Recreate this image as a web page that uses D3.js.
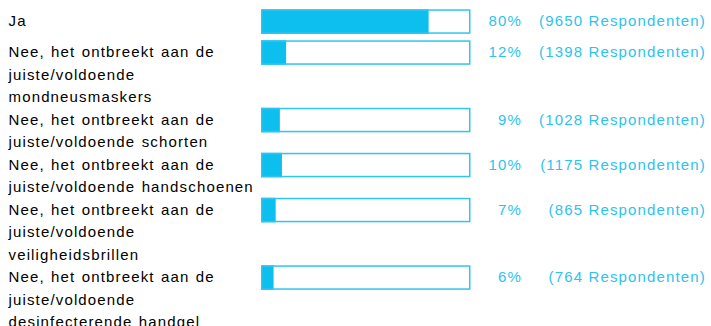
<!DOCTYPE html>
<html>
<head>
<meta charset="utf-8">
<script src="https://cdn.jsdelivr.net/npm/d3@7"></script>
<style>
  html, body { margin: 0; padding: 0; background: #ffffff; overflow: hidden; }
  svg { display: block; }
  text { font-family: "Liberation Sans", Arial, sans-serif; font-size: 15px; letter-spacing: 1.15px; }
  text.label { word-spacing: 1px; }
</style>
</head>
<body>
<svg id="chart" width="711" height="326"></svg>
<script>
// Answer options (each entry is the list of lines shown for that option)
const categories = [
  ["Ja"],
  ["Nee, het ontbreekt aan de", "juiste/voldoende", "mondneusmaskers"],
  ["Nee, het ontbreekt aan de", "juiste/voldoende schorten"],
  ["Nee, het ontbreekt aan de", "juiste/voldoende handschoenen"],
  ["Nee, het ontbreekt aan de", "juiste/voldoende", "veiligheidsbrillen"],
  ["Nee, het ontbreekt aan de", "juiste/voldoende", "desinfecterende handgel"]
];
const percentages = [80, 12, 9, 10, 7, 6];
const respondents = [9650, 1398, 1028, 1175, 865, 764];

const blue = "#0dbfef";
const textBlue = "#2cc3f0";

const svg = d3.select("#chart");

const lineHeight = 22.5;
const barHeight = 24.5;
const rowGap = 6.5;
const firstRowTop = 9.3;

// Each row is as tall as its label block or the bar plus gap, whichever is larger
const rowHeights = categories.map(lines => Math.max(lines.length * lineHeight, barHeight + rowGap));
const rowTops = rowHeights.reduce((acc, h, i) => { acc.push(i === 0 ? firstRowTop : acc[i - 1] + rowHeights[i - 1]); return acc; }, []);

const x = d3.scaleLinear().domain([0, 100]).range([261, 470.5]);

const rows = svg.selectAll("g.row")
  .data(categories.map((lines, i) => ({ lines, pct: percentages[i], n: respondents[i], y0: rowTops[i] })))
  .join("g")
  .attr("class", "row")
  .attr("transform", d => `translate(0,${d.y0})`);

// Label lines
rows.append("text")
  .attr("class", "label")
  .attr("fill", "#000000")
  .selectAll("tspan")
  .data(d => d.lines)
  .join("tspan")
  .attr("x", 8.5)
  .attr("y", (d, i) => 16.8 + i * lineHeight)
  .text(d => d);

// Bar fill
rows.append("rect")
  .attr("x", x(0))
  .attr("y", 0)
  .attr("width", d => x(d.pct) - x(0))
  .attr("height", barHeight)
  .attr("fill", blue);

// Bar outline
rows.append("rect")
  .attr("x", x(0) + 0.75)
  .attr("y", 0.75)
  .attr("width", x(100) - x(0) - 1.5)
  .attr("height", barHeight - 1.5)
  .attr("fill", "none")
  .attr("stroke", "#30c5f0")
  .attr("stroke-width", 1.5);

// Percentage
rows.append("text")
  .attr("x", 522)
  .attr("y", 16.8)
  .attr("text-anchor", "end")
  .attr("fill", textBlue)
  .text(d => d.pct + "%");

// Respondent count
rows.append("text")
  .attr("x", 706)
  .attr("y", 16.8)
  .attr("text-anchor", "end")
  .attr("fill", textBlue)
  .text(d => `(${d.n} Respondenten)`);
</script>
</body>
</html>
